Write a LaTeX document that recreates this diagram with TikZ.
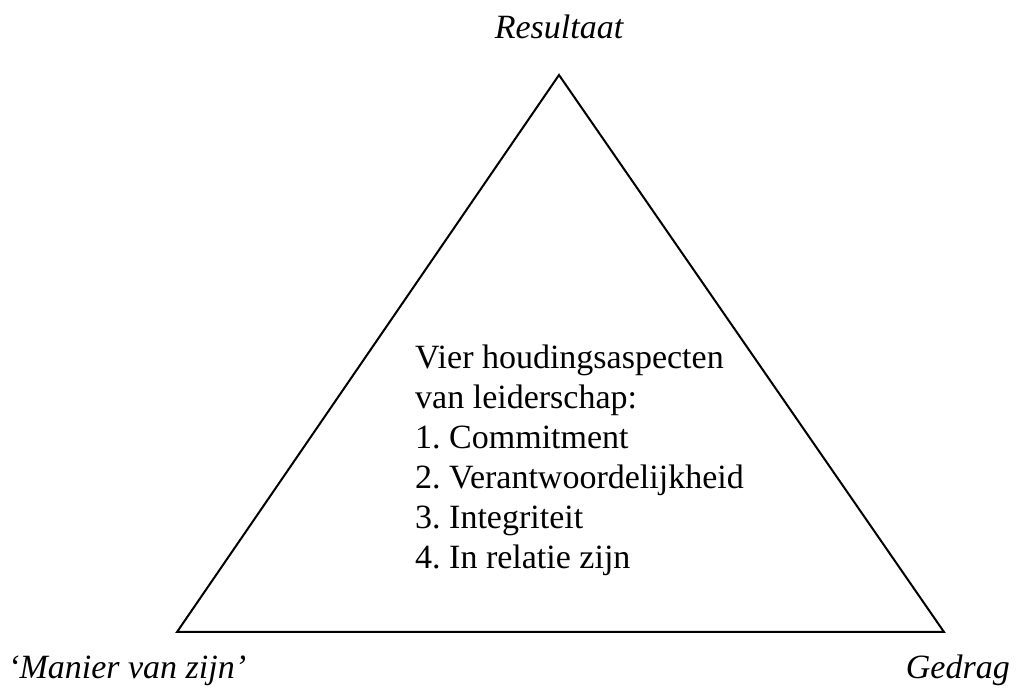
\documentclass[tikz,border=0pt]{standalone}
\usepackage{fontspec}
\setmainfont{Liberation Serif}
\frenchspacing
\begin{document}
\begin{tikzpicture}[x=1pt,y=1pt,
  edge/.style={line width=2pt, line join=miter},
  corner/.style={font=\fontsize{34}{40}\selectfont\itshape, inner sep=0pt},
  body/.style={font=\fontsize{34}{40}\selectfont, align=left, inner sep=0pt}]
\useasboundingbox (0,0) rectangle (1018,696);
\coordinate (top) at (559,621);
\coordinate (bl) at (177,64);
\coordinate (br) at (944,64);
\draw[edge] (top) -- (br) -- (bl) -- cycle;
\node[corner] (res) at (559,669) {Resultaat};
\node[corner, anchor=west] (man) at (8,25) {`Manier van zijn'};
\node[corner, anchor=east] (ged) at (1010,26) {Gedrag};
\node[body, anchor=north west] (txt) at (415,351) {Vier houdingsaspecten\\van leiderschap:\\1. Commitment\\2. Verantwoordelijkheid\\3. Integriteit\\4. In relatie zijn};
\end{tikzpicture}
\end{document}
